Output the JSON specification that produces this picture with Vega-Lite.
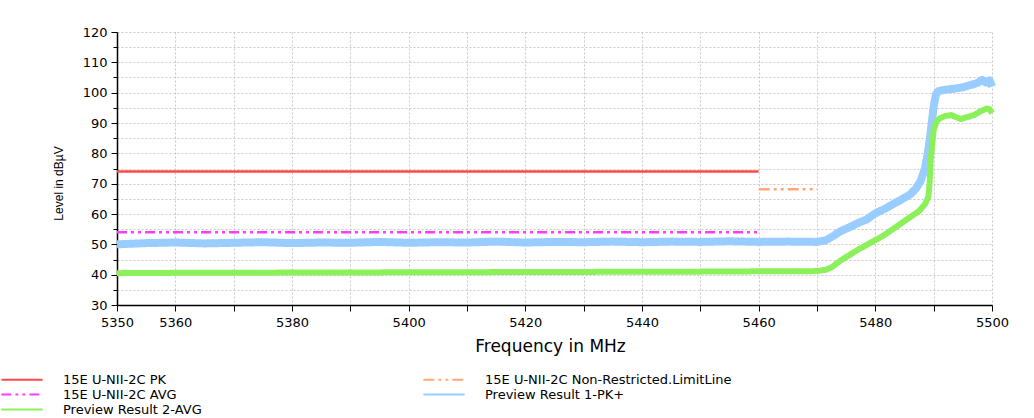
{
  "$schema": "https://vega.github.io/schema/vega-lite/v6.json",
  "width": 875,
  "height": 273,
  "autosize": {"type": "none"},
  "padding": {"left": 117, "top": 32, "right": 42, "bottom": 113},
  "background": "white",
  "config": {"view": {"stroke": null}, "font": "DejaVu Sans"},
  "datasets": {
    "d": [
      {"s": "15E U-NII-2C PK", "f": 5350, "v": 74},
      {"s": "15E U-NII-2C PK", "f": 5460, "v": 74},
      {"s": "15E U-NII-2C AVG", "f": 5350, "v": 54},
      {"s": "15E U-NII-2C AVG", "f": 5460, "v": 54},
      {"s": "15E U-NII-2C Non-Restricted.LimitLine", "f": 5460, "v": 68.2},
      {"s": "15E U-NII-2C Non-Restricted.LimitLine", "f": 5470, "v": 68.2},
      {"s": "Preview Result 1-PK+", "f": 5350, "v": 50.0},
      {"s": "Preview Result 1-PK+", "f": 5355, "v": 50.4},
      {"s": "Preview Result 1-PK+", "f": 5360, "v": 50.6},
      {"s": "Preview Result 1-PK+", "f": 5365, "v": 50.3},
      {"s": "Preview Result 1-PK+", "f": 5370, "v": 50.5},
      {"s": "Preview Result 1-PK+", "f": 5375, "v": 50.7},
      {"s": "Preview Result 1-PK+", "f": 5380, "v": 50.4},
      {"s": "Preview Result 1-PK+", "f": 5385, "v": 50.6},
      {"s": "Preview Result 1-PK+", "f": 5390, "v": 50.5},
      {"s": "Preview Result 1-PK+", "f": 5395, "v": 50.8},
      {"s": "Preview Result 1-PK+", "f": 5400, "v": 50.5},
      {"s": "Preview Result 1-PK+", "f": 5405, "v": 50.7},
      {"s": "Preview Result 1-PK+", "f": 5410, "v": 50.6},
      {"s": "Preview Result 1-PK+", "f": 5415, "v": 50.9},
      {"s": "Preview Result 1-PK+", "f": 5420, "v": 50.6},
      {"s": "Preview Result 1-PK+", "f": 5425, "v": 50.8},
      {"s": "Preview Result 1-PK+", "f": 5430, "v": 50.7},
      {"s": "Preview Result 1-PK+", "f": 5435, "v": 50.9},
      {"s": "Preview Result 1-PK+", "f": 5440, "v": 50.7},
      {"s": "Preview Result 1-PK+", "f": 5445, "v": 50.9},
      {"s": "Preview Result 1-PK+", "f": 5450, "v": 50.8},
      {"s": "Preview Result 1-PK+", "f": 5455, "v": 51.0},
      {"s": "Preview Result 1-PK+", "f": 5460, "v": 50.8},
      {"s": "Preview Result 1-PK+", "f": 5465, "v": 50.9},
      {"s": "Preview Result 1-PK+", "f": 5470, "v": 50.8},
      {"s": "Preview Result 1-PK+", "f": 5471.5, "v": 51.3},
      {"s": "Preview Result 1-PK+", "f": 5473, "v": 53.0},
      {"s": "Preview Result 1-PK+", "f": 5474, "v": 54.3},
      {"s": "Preview Result 1-PK+", "f": 5475.5, "v": 55.6},
      {"s": "Preview Result 1-PK+", "f": 5477, "v": 57.0},
      {"s": "Preview Result 1-PK+", "f": 5478.5, "v": 58.2},
      {"s": "Preview Result 1-PK+", "f": 5480, "v": 60.2},
      {"s": "Preview Result 1-PK+", "f": 5481.5, "v": 61.6},
      {"s": "Preview Result 1-PK+", "f": 5483, "v": 63.2},
      {"s": "Preview Result 1-PK+", "f": 5484.5, "v": 64.8},
      {"s": "Preview Result 1-PK+", "f": 5486, "v": 66.5},
      {"s": "Preview Result 1-PK+", "f": 5487, "v": 68.5},
      {"s": "Preview Result 1-PK+", "f": 5487.8, "v": 71.0},
      {"s": "Preview Result 1-PK+", "f": 5488.5, "v": 75.0},
      {"s": "Preview Result 1-PK+", "f": 5489, "v": 80.0},
      {"s": "Preview Result 1-PK+", "f": 5489.4, "v": 85.5},
      {"s": "Preview Result 1-PK+", "f": 5489.7, "v": 90.5},
      {"s": "Preview Result 1-PK+", "f": 5490, "v": 95.4},
      {"s": "Preview Result 1-PK+", "f": 5490.4, "v": 99.5},
      {"s": "Preview Result 1-PK+", "f": 5490.8, "v": 100.5},
      {"s": "Preview Result 1-PK+", "f": 5492, "v": 101.0},
      {"s": "Preview Result 1-PK+", "f": 5493.5, "v": 101.3},
      {"s": "Preview Result 1-PK+", "f": 5495, "v": 101.8},
      {"s": "Preview Result 1-PK+", "f": 5496.5, "v": 102.6},
      {"s": "Preview Result 1-PK+", "f": 5497.5, "v": 103.2},
      {"s": "Preview Result 1-PK+", "f": 5498.3, "v": 104.2},
      {"s": "Preview Result 1-PK+", "f": 5499, "v": 103.3},
      {"s": "Preview Result 1-PK+", "f": 5499.6, "v": 104.0},
      {"s": "Preview Result 1-PK+", "f": 5500, "v": 102.0},
      {"s": "Preview Result 2-AVG", "f": 5350, "v": 40.5},
      {"s": "Preview Result 2-AVG", "f": 5360, "v": 40.6},
      {"s": "Preview Result 2-AVG", "f": 5370, "v": 40.6},
      {"s": "Preview Result 2-AVG", "f": 5380, "v": 40.7},
      {"s": "Preview Result 2-AVG", "f": 5390, "v": 40.7},
      {"s": "Preview Result 2-AVG", "f": 5400, "v": 40.8},
      {"s": "Preview Result 2-AVG", "f": 5410, "v": 40.8},
      {"s": "Preview Result 2-AVG", "f": 5420, "v": 40.9},
      {"s": "Preview Result 2-AVG", "f": 5430, "v": 40.9},
      {"s": "Preview Result 2-AVG", "f": 5440, "v": 41.0},
      {"s": "Preview Result 2-AVG", "f": 5450, "v": 41.0},
      {"s": "Preview Result 2-AVG", "f": 5460, "v": 41.1},
      {"s": "Preview Result 2-AVG", "f": 5468, "v": 41.1},
      {"s": "Preview Result 2-AVG", "f": 5470, "v": 41.2},
      {"s": "Preview Result 2-AVG", "f": 5471.5, "v": 41.6},
      {"s": "Preview Result 2-AVG", "f": 5472.5, "v": 42.4},
      {"s": "Preview Result 2-AVG", "f": 5474, "v": 44.6},
      {"s": "Preview Result 2-AVG", "f": 5475.5, "v": 46.4},
      {"s": "Preview Result 2-AVG", "f": 5477, "v": 48.2},
      {"s": "Preview Result 2-AVG", "f": 5478.5, "v": 49.8},
      {"s": "Preview Result 2-AVG", "f": 5480, "v": 51.4},
      {"s": "Preview Result 2-AVG", "f": 5481.5, "v": 53.0},
      {"s": "Preview Result 2-AVG", "f": 5483, "v": 55.0},
      {"s": "Preview Result 2-AVG", "f": 5484.5, "v": 57.0},
      {"s": "Preview Result 2-AVG", "f": 5486, "v": 59.0},
      {"s": "Preview Result 2-AVG", "f": 5487.5, "v": 61.0},
      {"s": "Preview Result 2-AVG", "f": 5488.5, "v": 63.2},
      {"s": "Preview Result 2-AVG", "f": 5489.1, "v": 65.7},
      {"s": "Preview Result 2-AVG", "f": 5489.3, "v": 70.0},
      {"s": "Preview Result 2-AVG", "f": 5489.5, "v": 77.8},
      {"s": "Preview Result 2-AVG", "f": 5489.8, "v": 84.0},
      {"s": "Preview Result 2-AVG", "f": 5490, "v": 87.7},
      {"s": "Preview Result 2-AVG", "f": 5490.5, "v": 90.5},
      {"s": "Preview Result 2-AVG", "f": 5491, "v": 91.5},
      {"s": "Preview Result 2-AVG", "f": 5492, "v": 92.3},
      {"s": "Preview Result 2-AVG", "f": 5493, "v": 92.6},
      {"s": "Preview Result 2-AVG", "f": 5494, "v": 91.8},
      {"s": "Preview Result 2-AVG", "f": 5494.6, "v": 91.3},
      {"s": "Preview Result 2-AVG", "f": 5495.5, "v": 91.8},
      {"s": "Preview Result 2-AVG", "f": 5496.9, "v": 92.6},
      {"s": "Preview Result 2-AVG", "f": 5498, "v": 93.8},
      {"s": "Preview Result 2-AVG", "f": 5499.1, "v": 94.8},
      {"s": "Preview Result 2-AVG", "f": 5499.6, "v": 94.5},
      {"s": "Preview Result 2-AVG", "f": 5500, "v": 93.2}
    ]
  },
  "data": {"name": "d"},
  "encoding": {
    "x": {
      "field": "f", "type": "quantitative",
      "scale": {"domain": [5350, 5500], "nice": false, "zero": false},
      "axis": {
        "values": [5350, 5360, 5370, 5380, 5390, 5400, 5410, 5420, 5430, 5440, 5450, 5460, 5470, 5480, 5490, 5500],
        "format": "d",
        "labelExpr": "datum.value == 5350 || datum.value % 20 == 0 ? datum.label : ''",
        "labelFlush": false,
        "labelFont": "DejaVu Sans", "labelFontSize": 13, "labelColor": "#000",
        "labelPadding": 5,
        "tickSize": 6, "tickColor": "#000", "domainColor": "#000", "domainWidth": 1.5,
        "grid": true, "gridColor": "#c8c8c8", "gridDash": [2, 2],
        "title": "Frequency in MHz",
        "titleFont": "DejaVu Sans", "titleFontSize": 17, "titleFontWeight": "normal", "titleColor": "#000",
        "titleX": 433, "titleY": 46, "titleBaseline": "alphabetic", "titleAlign": "center"
      }
    },
    "y": {
      "field": "v", "type": "quantitative",
      "scale": {"domain": [30, 120], "nice": false, "zero": false},
      "axis": {
        "values": [30, 35, 40, 45, 50, 55, 60, 65, 70, 75, 80, 85, 90, 95, 100, 105, 110, 115, 120],
        "labelExpr": "datum.value % 10 == 0 ? datum.label : ''",
        "labelFlush": false,
        "labelFont": "DejaVu Sans", "labelFontSize": 13, "labelColor": "#000",
        "labelPadding": 4,
        "tickSize": {"condition": {"test": "datum.value % 10 == 0", "value": 6}, "value": 4},
        "tickColor": "#000", "domainColor": "#000", "domainWidth": 1.5,
        "grid": true, "gridColor": "#c8c8c8", "gridDash": [2, 2],
        "title": "Level in dBµV",
        "titleFont": "Liberation Sans", "titleFontSize": 12, "titleFontWeight": "normal", "titleColor": "#000",
        "titleAngle": -90, "titleX": -59, "titleY": 151, "titleAlign": "center", "titleBaseline": "middle"
      }
    },
    "color": {
      "field": "s", "type": "nominal",
      "scale": {
        "domain": ["15E U-NII-2C PK", "15E U-NII-2C AVG", "Preview Result 2-AVG", "15E U-NII-2C Non-Restricted.LimitLine", "Preview Result 1-PK+"],
        "range": ["#ff4848", "#ff3cff", "#8cf05a", "#ffa777", "#99ccff"]
      },
      "legend": {
        "title": null, "orient": "none", "legendX": -117, "legendY": 341,
        "columns": 2, "columnPadding": 220, "rowPadding": 1,
        "symbolType": "stroke", "symbolSize": 1700, "symbolStrokeWidth": 2, "clipHeight": 13,
        "labelFont": "DejaVu Sans", "labelFontSize": 13, "labelColor": "#000", "labelOffset": 19, "labelLimit": 400,
        "padding": 0, "offset": 0
      }
    },
    "strokeDash": {
      "field": "s", "type": "nominal",
      "scale": {
        "domain": ["15E U-NII-2C PK", "15E U-NII-2C AVG", "Preview Result 2-AVG", "15E U-NII-2C Non-Restricted.LimitLine", "Preview Result 1-PK+"],
        "range": [[1, 0], [10, 4, 3, 4, 3, 4], [1, 0], [11, 4, 3, 4, 3, 4], [1, 0]]
      },
      "legend": {
        "title": null, "orient": "none", "legendX": -117, "legendY": 341,
        "columns": 2, "columnPadding": 220, "rowPadding": 1,
        "symbolType": "stroke", "symbolSize": 1700, "symbolStrokeWidth": 2, "clipHeight": 13,
        "labelFont": "DejaVu Sans", "labelFontSize": 13, "labelColor": "#000", "labelOffset": 19, "labelLimit": 400,
        "padding": 0, "offset": 0
      }
    }
  },
  "layer": [
    {
      "transform": [{"filter": "datum.s == 'Preview Result 1-PK+'"}],
      "mark": {"type": "line", "strokeWidth": 8, "strokeJoin": "round"}
    },
    {
      "transform": [{"filter": "datum.s == 'Preview Result 2-AVG'"}],
      "mark": {"type": "line", "strokeWidth": 6, "strokeJoin": "round"}
    },
    {
      "transform": [{"filter": "indexof(datum.s, '15E') == 0"}],
      "mark": {"type": "line", "strokeWidth": 2.5}
    }
  ]
}
